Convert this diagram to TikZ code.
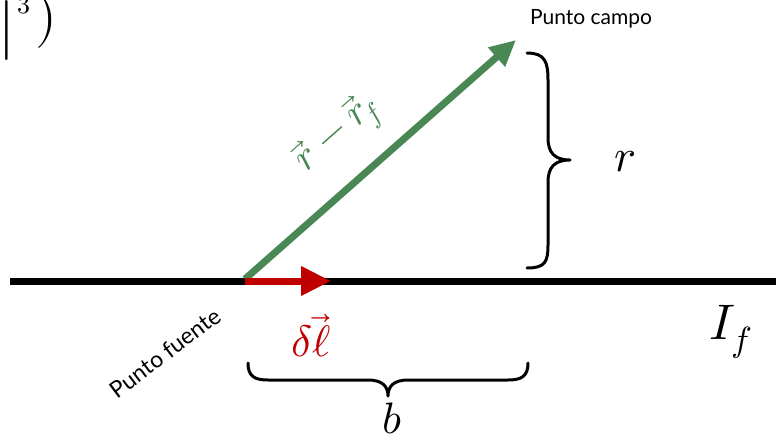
\documentclass[tikz,border=0pt]{standalone}
\usepackage{fontspec}
\usepackage{unicode-math}
\setmathfont{Latin Modern Math}
\newfontfamily\labfont{Lato}
\usetikzlibrary{arrows.meta}
\definecolor{vgreen}{RGB}{73,135,84}
\definecolor{vred}{RGB}{192,0,0}
\tikzset{
  lab/.style={font=\labfont\fontsize{21}{24}\selectfont, inner sep=0pt},
  bracestyle/.style={line width=3pt, line cap=round, line join=round},
  mathlab/.style={inner sep=0pt}
}
\begin{document}
\begin{tikzpicture}[x=1pt,y=-1pt]
\useasboundingbox (0,0) rectangle (776,436);
\fill[white] (0,0) rectangle (776,436);
\begin{scope}
\clip (0,0) rectangle (776,436);
\node[mathlab, anchor=base] (fbar) at (7,46) {\fontsize{60}{64}\selectfont$|$};
\node[mathlab, anchor=base] (fexp) at (24,14) {\fontsize{26}{30}\selectfont$3$};
\node[mathlab, anchor=base] (fpar) at (46,35) {\fontsize{56}{60}\selectfont$)$};
\end{scope}
% wire
\coordinate (wl) at (10,281);
\coordinate (wr) at (776,281);
\draw[line width=7pt] (wl) -- (wr);
% points
\coordinate (src) at (245,279);
\coordinate (fld) at (516,40);
\coordinate (dl) at (331,281);
\draw[vgreen, line width=7pt, -{Triangle[length=26pt,width=24pt]}] (src) -- (fld);
\draw[vred, line width=7pt, -{Triangle[length=30pt,width=28pt]}] (245,281) -- (dl);
% right brace
\draw[bracestyle] (527,53) .. controls (545,53) and (548,62) .. (548,80) -- (548,138)
  .. controls (548,153) and (555,160) .. (570,160)
  .. controls (555,160) and (548,167) .. (548,182) -- (548,245)
  .. controls (548,262) and (545,268) .. (527,268);
% bottom brace
\draw[bracestyle] (248,363) .. controls (248,376) and (254,380) .. (268,380) -- (368,380)
  .. controls (382,380) and (388,386) .. (388,396)
  .. controls (388,386) and (394,380) .. (408,380) -- (508,380)
  .. controls (522,380) and (528,376) .. (528,363);
% labels
\node[lab] (pc) at (591,19) {Punto campo};
\node[lab, font=\labfont\fontsize{23}{26}\selectfont, rotate=37] (pf) at (165,353) {Punto fuente};
\node[mathlab, text=vgreen, rotate=41.4] (rl) at (339,135) {\fontsize{40}{44}\selectfont$\vec{r}-\vec{r}_{\!f}$};
\node[mathlab, text=vred] (dll) at (311,336) {\fontsize{44}{48}\selectfont$\delta\vec{\ell}$};
\node[mathlab] (rr) at (625,162) {\fontsize{46}{50}\selectfont$r$};
\node[mathlab] (bb) at (392,418) {\fontsize{44}{48}\selectfont$b$};
\node[mathlab] (If) at (731,332) {\fontsize{50}{54}\selectfont$I_f$};
\end{tikzpicture}
\end{document}
